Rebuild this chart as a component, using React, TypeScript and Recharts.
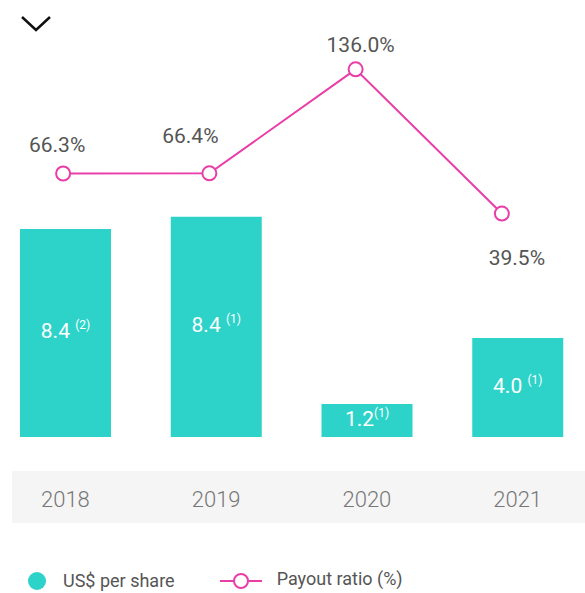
import React from "react";
import { ComposedChart, Bar, Line, XAxis, YAxis, LabelList } from "recharts";

const years = ["2018", "2019", "2020", "2021"];
const perShare = [8.4, 8.9, 1.33, 4.0];
const perShareLabels = ["8.4 ", "8.4 ", "1.2", "4.0 "];
const perShareNotes = ["(2)", "(1)", "(1)", "(1)"];
const payout = [66.3, 66.4, 136.0, 39.5];
const payoutLabels = ["66.3%", "66.4%", "136.0%", "39.5%"];

const data = years.map((y, i) => ({
  year: y,
  perShare: perShare[i],
  payout: payout[i],
  idx: i,
}));

const TEAL = "#2dd3c9";
const PINK = "#e93da8";
const FONT = "Roboto, 'Noto Sans', sans-serif";
const labelOffsets = [
  [-6, -28],
  [-19, -37],
  [5, -24],
  [15, 44],
];

const BarLabel = (props: any) => {
  const { x, y, width, height, index } = props;
  const cx = x + width / 2;
  const cy = y + height / 2;
  return (
    <text
      x={cx}
      y={cy}
      dy={5}
      textAnchor="middle"
      fill="#fff"
      fontFamily={FONT}
      fontSize={21}
    >
      {perShareLabels[index]}
      <tspan fontSize={12} dy={-9}>
        {perShareNotes[index]}
      </tspan>
    </text>
  );
};

const LineLabel = (props: any) => {
  const { x, y, index } = props;
  const [dx, dy] = labelOffsets[index];
  return (
    <text
      x={x + dx}
      y={y + dy}
      dy={7}
      textAnchor="middle"
      fill="#555"
      fontFamily={FONT}
      fontSize={21}
    >
      {payoutLabels[index]}
    </text>
  );
};

const Tick = (props: any) => {
  const { x, y, payload } = props;
  return (
    <text
      x={x}
      y={y}
      dy={62}
      textAnchor="middle"
      fill="#777"
      fontFamily={FONT}
      fontWeight={300}
      fontSize={22}
    >
      {payload.value}
    </text>
  );
};

const LegendBlock = () => (
  <div
    style={{
      position: "absolute",
      left: 27,
      top: 570,
      display: "flex",
      alignItems: "center",
      fontFamily: FONT,
      fontSize: 18,
      color: "#555",
      whiteSpace: "nowrap",
    }}
  >
    <svg width={20} height={20} style={{ marginRight: 16 }}>
      <circle cx={10} cy={10} r={9} fill={TEAL} />
    </svg>
    <span style={{ marginRight: 44 }}>US$ per share</span>
    <svg width={44} height={20} style={{ marginRight: 14 }}>
      <line x1={1} y1={10} x2={43} y2={10} stroke={PINK} strokeWidth={2} />
      <circle cx={22} cy={10} r={7} fill="#fff" stroke={PINK} strokeWidth={2} />
    </svg>
    <span style={{ position: "relative", top: -2 }}>Payout ratio (%)</span>
  </div>
);

export default function App() {
  return (
    <div
      style={{
        position: "absolute",
        left: 0,
        top: 0,
        width: 585,
        height: 593,
        overflow: "hidden",
        background: "#fff",
      }}
    >
      <svg width={60} height={40} style={{ position: "absolute", left: 0, top: 0 }}>
        <polyline
          points="22,17 36,30 50,17"
          fill="none"
          stroke="#111"
          strokeWidth={2.5}
        />
      </svg>
      <div
        style={{
          position: "absolute",
          left: 12,
          top: 471,
          width: 573,
          height: 52,
          background: "#f5f5f5",
        }}
      />
      <div style={{ position: "absolute", left: -10, top: 0 }}>
        <ComposedChart
          width={603}
          height={593}
          data={data}
          margin={{ top: 20, right: 0, bottom: 63, left: 0 }}
        >
          <XAxis
            dataKey="year"
            xAxisId="bar"
            axisLine={false}
            tickLine={false}
            tick={<Tick />}
            height={93}
            interval={0}
          />
          <XAxis
            dataKey="year"
            xAxisId="line"
            hide
            padding={{ left: 0, right: 18 }}
          />
          <YAxis yAxisId="bar" hide domain={[0, 16.85]} />
          <YAxis yAxisId="line" hide domain={[-110, 169]} />
          <Bar
            dataKey="perShare"
            xAxisId="bar"
            yAxisId="bar"
            fill={TEAL}
            barSize={91}
            isAnimationActive={false}
          >
            <LabelList dataKey="perShare" content={<BarLabel />} />
          </Bar>
          <Line
            dataKey="payout"
            xAxisId="line"
            yAxisId="line"
            stroke={PINK}
            strokeWidth={2}
            dot={{ r: 7, fill: "#fff", stroke: PINK, strokeWidth: 2 }}
            activeDot={false}
            isAnimationActive={false}
          >
            <LabelList dataKey="payout" content={<LineLabel />} />
          </Line>
        </ComposedChart>
      </div>
      <LegendBlock />
    </div>
  );
}
